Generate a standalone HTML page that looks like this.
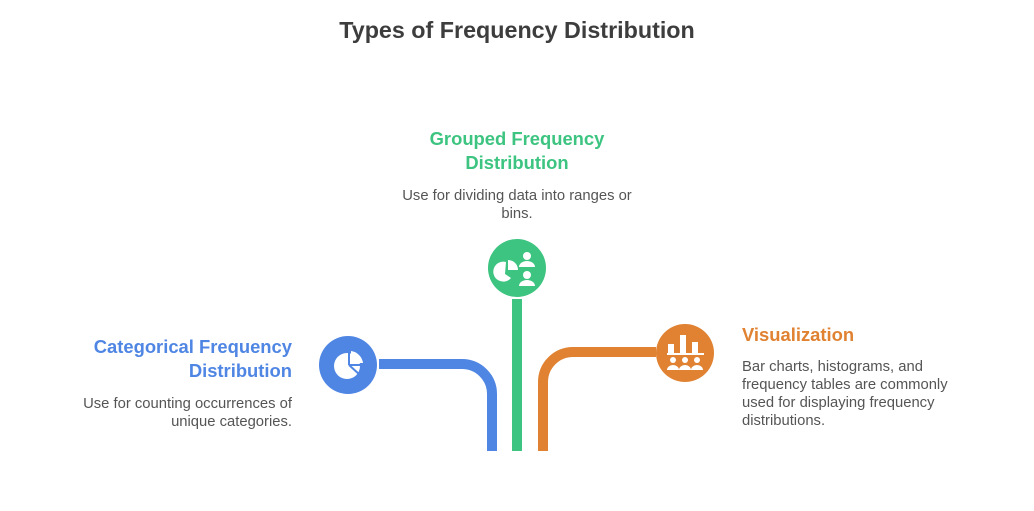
<!DOCTYPE html>
<html><head><style>
body{margin:0;width:1034px;height:511px;background:#fff;font-family:"Liberation Sans",sans-serif;position:relative;overflow:hidden}
.t{position:absolute;white-space:nowrap}
h1{position:absolute;margin:0;top:17px;left:0;width:1034px;text-align:center;font-size:23.3px;color:#3d3d3d;font-weight:bold}
.h{font-size:18.4px;font-weight:bold;line-height:24px}
.b{font-size:14.8px;color:#555;line-height:18px}
</style></head><body>
<h1>Types of Frequency Distribution</h1>
<div class="t h" style="left:367px;top:127px;width:300px;text-align:center;color:#3cc480">Grouped Frequency<br>Distribution</div>
<div class="t b" style="left:367px;top:187px;width:300px;text-align:center">Use for dividing data into ranges or<br>bins.</div>
<div class="t h" style="left:0;top:335px;width:292px;text-align:right;color:#4f86e4">Categorical Frequency<br>Distribution</div>
<div class="t b" style="left:0;top:395px;width:292px;text-align:right">Use for counting occurrences of<br>unique categories.</div>
<div class="t h" style="left:742px;top:323px;color:#e08231">Visualization</div>
<div class="t b" style="left:742px;top:358px">Bar charts, histograms, and<br>frequency tables are commonly<br>used for displaying frequency<br>distributions.</div>
<svg width="1034" height="511" style="position:absolute;left:0;top:0">
<path d="M379 364 H462 A30 30 0 0 1 492 394 V451" fill="none" stroke="#4f86e4" stroke-width="10"/>
<path d="M656 352 H573 A30 30 0 0 0 543 382 V451" fill="none" stroke="#e08231" stroke-width="10"/>
<rect x="512" y="299" width="10" height="152" fill="#3cc480"/>
<circle cx="517" cy="268" r="29" fill="#3cc480"/>
<circle cx="348" cy="365" r="29" fill="#4f86e4"/>
<circle cx="685" cy="353" r="29" fill="#e08231"/>
<g fill="#fff">
<circle cx="347" cy="366" r="13"/>
<path d="M349 365 V351 M349 365 L360 375 M349 365 H363" stroke="#4f86e4" stroke-width="2" fill="none"/>
<path d="M351 351 A14 14 0 0 1 363 363 H351Z"/>
<path d="M506 262 A10 10 0 1 0 511 278 L505 274Z"/><path d="M508 260 A10 10 0 0 1 518 270 H508Z"/>
<circle cx="527" cy="256" r="4"/><path d="M519 267 a8 6 0 0 1 16 0Z"/>
<circle cx="527" cy="275" r="4"/><path d="M519 286 a8 6 0 0 1 16 0Z"/>
<rect x="668" y="344" width="6" height="9"/><rect x="680" y="335" width="6" height="18"/><rect x="692" y="342" width="6" height="11"/>
<rect x="667" y="353" width="37" height="2"/>
<circle cx="673" cy="360" r="3"/><circle cx="685" cy="360" r="3"/><circle cx="697" cy="360" r="3"/>
<path d="M667 370 a6 5 0 0 1 12 0Z M679 370 a6 5 0 0 1 12 0Z M691 370 a6 5 0 0 1 12 0Z"/>
</g>
</svg>
</body></html>
